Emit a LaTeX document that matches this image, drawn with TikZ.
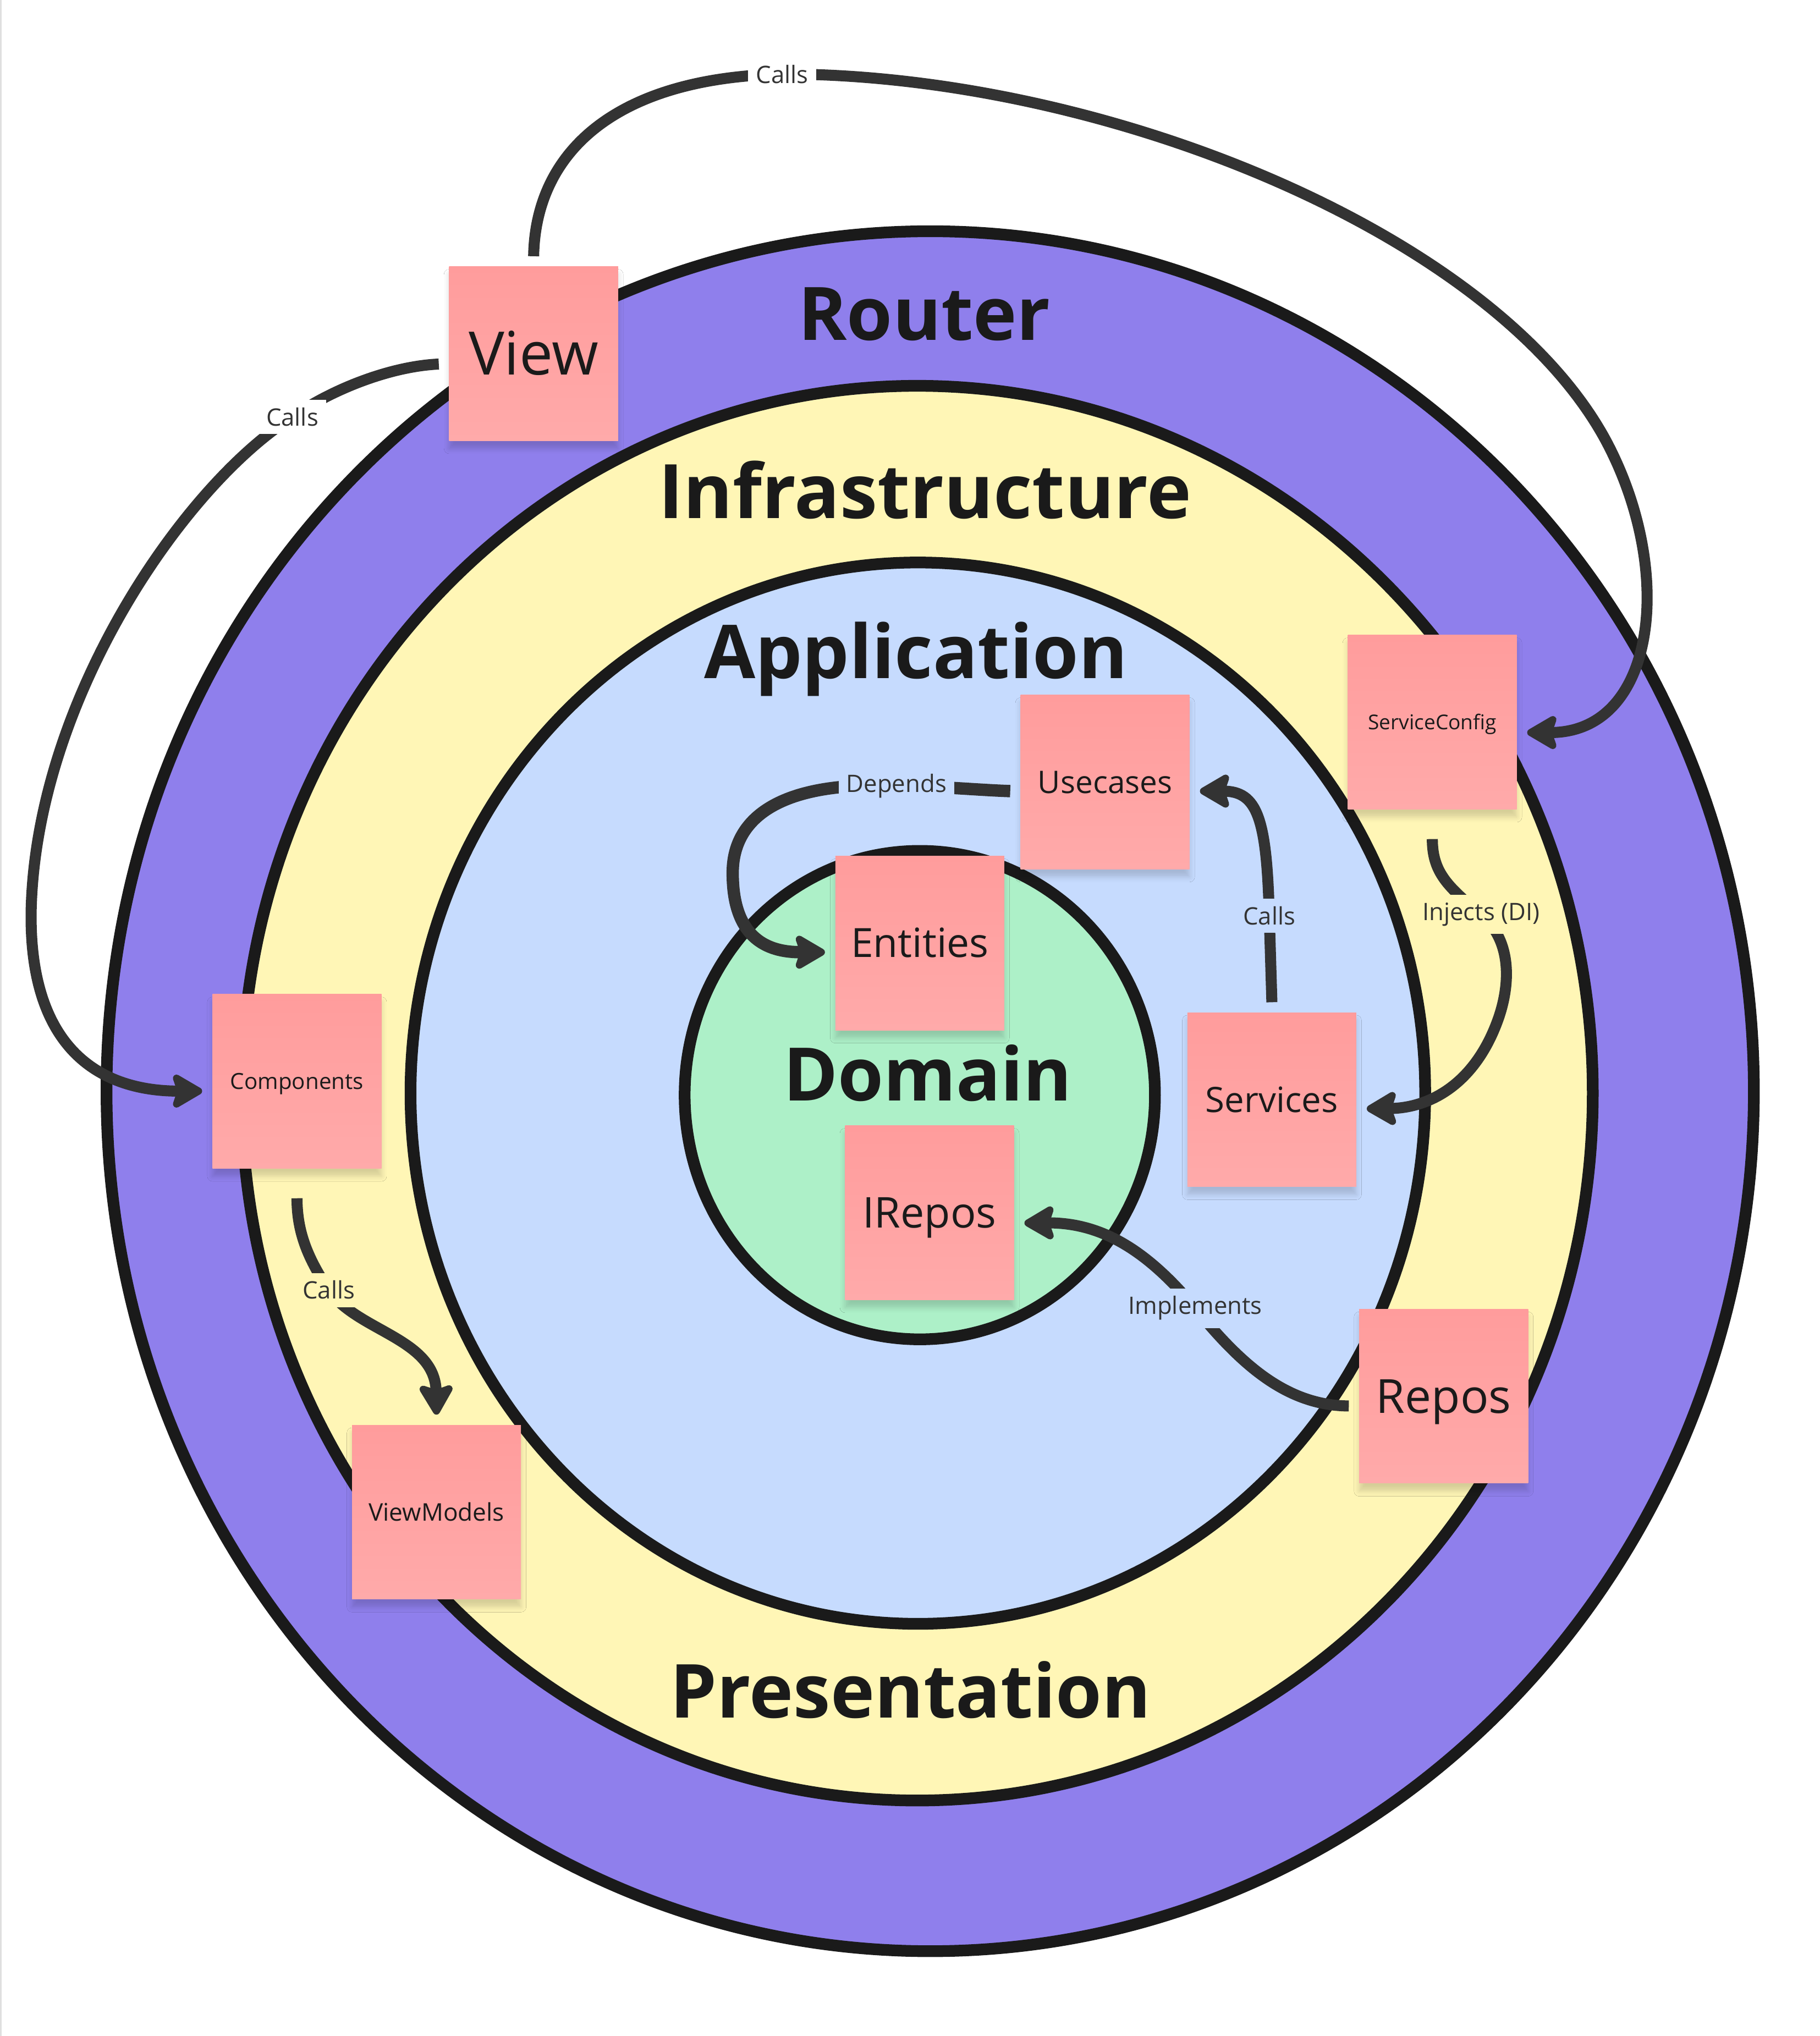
\documentclass[tikz,border=0pt]{standalone}
\usepackage{fontspec}
\setmainfont{Open Sans}
\usetikzlibrary{arrows.meta,calc,shadows.blur}
\definecolor{purp}{HTML}{8F7FEC}
\definecolor{yel}{HTML}{FFF6B6}
\definecolor{blu}{HTML}{C6DBFE}
\definecolor{grn}{HTML}{ADF0C8}
\definecolor{ink}{HTML}{1A1A1A}
\definecolor{connc}{HTML}{333333}
\definecolor{stTop}{HTML}{FF9C9C}
\definecolor{stBot}{HTML}{FFAAAA}
\newcommand\capfit[2]{\resizebox{#1}{!}{\raisebox{0pt}[\fontcharht\font`H][0pt]{#2}}}
\tikzset{
  sticky/.style={rectangle, minimum width=130pt, minimum height=134pt, inner sep=0pt,
    outer sep=8pt, top color=stTop, bottom color=stBot, text=ink,
    blur shadow={shadow xshift=0pt, shadow yshift=-6pt, shadow blur radius=4pt, shadow opacity=16}},
  ring/.style={draw=ink, line width=9pt},
  arrowline/.style={draw=connc, line width=8.5pt,
    -{Stealth[length=27pt,width=31pt,inset=5pt,round]}},
  lab/.style={font=\fontsize{18.5}{20}\selectfont, text=connc, inner sep=6pt},
  layertitle/.style={font=\bfseries, text=ink, inner sep=0pt}
}
\begin{document}
\begin{tikzpicture}[x=1pt,y=-1pt]
\useasboundingbox (0,0) rectangle (1400.5,1567.3);
\fill[white] (0,0) rectangle (1400.5,1567.3);
\draw[gray!25, line width=1.2pt] (0.6,0) -- (0.6,1567.3);

% layers
\draw[ring, fill=purp] (716,840) ellipse [x radius=634pt, y radius=662pt];
\draw[ring, fill=yel] (706,841.5) ellipse [x radius=520pt, y radius=544.5pt];
\draw[ring, fill=blu] (706.5,841.5) ellipse [x radius=390.5pt, y radius=408.5pt];
\draw[ring, fill=grn] (708,843) ellipse [x radius=181pt, y radius=188pt];

% layer titles
\node[layertitle] (trouter) at (711.5,241.5) {\capfit{194pt}{Router}};
\node[layertitle] (tinfra) at (712,378.5) {\capfit{410pt}{Infrastructure}};
\node[layertitle] (tapp) at (705,502) {\capfit{326pt}{Application}};
\node[layertitle] (tdom) at (714,827) {\capfit{222pt}{Domain}};
\node[layertitle] (tpres) at (701,1302) {\capfit{370pt}{Presentation}};

% stickies
\node[sticky] (view) at (410.75,272.25) {\capfit{100pt}{View}};
\node[sticky] (sc) at (1102.5,555.9) {\capfit{99pt}{ServiceConfig}};
\node[sticky] (uc) at (850.6,602) {\capfit{103.5pt}{Usecases}};
\node[sticky] (ent) at (708,726) {\capfit{106pt}{Entities}};
\node[sticky] (comp) at (228.6,832.4) {\capfit{102.5pt}{Components}};
\node[sticky] (serv) at (979,846.5) {\capfit{102pt}{Services}};
\node[sticky] (irepos) at (715.5,933.5) {\capfit{103pt}{IRepos}};
\node[sticky] (repos) at (1111.2,1074.8) {\capfit{104pt}{Repos}};
\node[sticky] (vm) at (336,1164) {\capfit{104.4pt}{ViewModels}};

% connectors
\draw[arrowline] (view.north) .. controls (412,120) and (470,60) .. (602,57)
  node[lab, fill=white] (l1) {Calls}
  .. controls (850,57) and (1150,180) .. (1236,339)
  .. controls (1290,440) and (1275,564) .. ([yshift=-8pt]sc.east);

\draw[arrowline] ([yshift=-8pt]view.west) .. controls (300,282) and (255,300) .. (225,321)
  node[lab, fill=white] (l2) {Calls}
  .. controls (140,375) and (28,540) .. (24,700)
  .. controls (22,800) and (70,840) .. ([yshift=-7.5pt]comp.west);

\draw[arrowline] ([yshift=-15pt]comp.south) .. controls (228.6,950) and (238,970) .. (253,993)
  node[lab, fill=yel] (l3) {Calls}
  .. controls (275,1025) and (335,1030) .. (vm.north);

\draw[arrowline, line width=9.5pt] ([yshift=-7pt]uc.west) .. controls (750,608) and (720,605) .. (690,605)
  node[lab, fill=blu] (l4) {Depends}
  .. controls (600,601) and (565,630) .. (564,670)
  .. controls (563,730) and (600,733) .. ([yshift=-7pt]ent.west);

\draw[arrowline] (serv.north) -- (977,705)
  node[lab, fill=blu] (l5) {Calls}
  .. controls (975,630) and (968,609) .. ([yshift=-7pt]uc.east);

\draw[arrowline] ([yshift=-15pt]sc.south) .. controls (1102.5,672) and (1115,683) .. (1140,704)
  node[lab, fill=yel] (l6) {Injects (DI)}
  .. controls (1165,725) and (1162,760) .. (1153,785)
  .. controls (1135,835) and (1100,853) .. ([yshift=-7pt]serv.east);

\draw[arrowline] ([yshift=-7.5pt]repos.west) .. controls (990,1082) and (955,1050) .. (920,1007)
  node[lab, fill=blu] (l7) {Implements}
  .. controls (885,965) and (850,941) .. ([yshift=-8pt]irepos.east);
\end{tikzpicture}
\end{document}
